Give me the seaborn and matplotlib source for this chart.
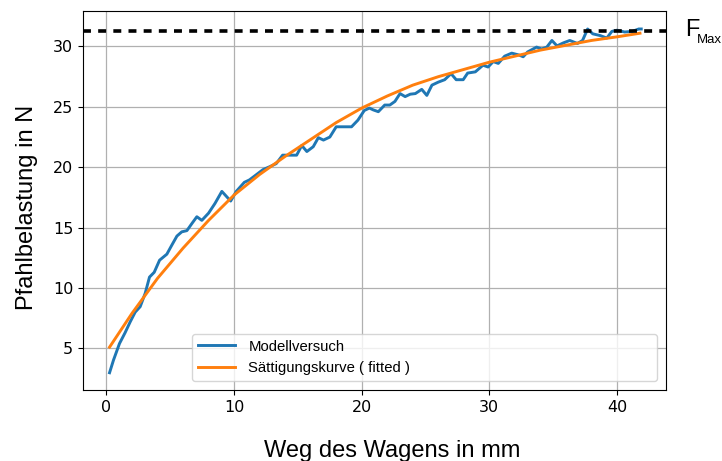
import matplotlib
matplotlib.use("Agg")
import matplotlib.pyplot as plt
import seaborn as sns
import pandas as pd

# Measured data (Modellversuch)
weg_mess = [0.24, 0.55, 1.02, 1.46, 1.86, 2.25, 2.64, 3.03, 3.37, 3.74, 4.16, 4.73,
            5.12, 5.52, 5.9, 6.3, 6.7, 7.08, 7.47, 8.0, 8.5, 9.04, 9.73, 10.17, 10.8,
            11.2, 11.7, 12.26, 12.8, 13.3, 13.8, 14.35, 14.9, 15.3, 15.7, 16.2, 16.6,
            17.0, 17.5, 18.0, 18.5, 19.2, 19.7, 20.2, 20.6, 20.9, 21.3, 21.8, 22.2,
            22.6, 23.0, 23.4, 23.8, 24.2, 24.7, 25.1, 25.5, 26.0, 26.5, 27.0, 27.4,
            27.95, 28.3, 28.9, 29.5, 29.9, 30.3, 30.7, 31.2, 31.75, 32.3, 32.65, 33.0,
            33.7, 34.1, 34.5, 34.9, 35.3, 35.8, 36.3, 36.9, 37.3, 37.7, 38.1, 38.7,
            39.2, 39.6, 40.0, 40.6, 41.2, 41.7, 41.9]
kraft_mess = [2.98, 4.03, 5.4, 6.3, 7.2, 8.0, 8.45, 9.55, 10.9, 11.3, 12.3, 12.8,
              13.55, 14.3, 14.65, 14.75, 15.35, 15.9, 15.6, 16.2, 17.0, 18.0, 17.2, 18.0, 18.75,
              18.95, 19.35, 19.8, 20.05, 20.3, 21.0, 21.0, 21.0, 21.8, 21.3, 21.7, 22.45,
              22.25, 22.5, 23.35, 23.35, 23.35, 23.9, 24.7, 24.9, 24.75, 24.6, 25.15, 25.15,
              25.45, 26.1, 25.85, 26.05, 26.1, 26.45, 25.95, 26.8, 27.05, 27.25, 27.75, 27.25,
              27.25, 27.8, 27.9, 28.45, 28.3, 28.75, 28.6, 29.2, 29.45, 29.3, 29.15, 29.55,
              29.95, 29.8, 29.95, 30.5, 30.05, 30.3, 30.5, 30.25, 30.5, 31.45, 31.05, 30.9,
              30.7, 31.25, 31.35, 31.2, 31.25, 31.45, 31.45]

# Fitted saturation curve
weg_fit = [0.24, 2, 4, 6, 8, 10, 12, 14, 16, 18, 20, 22, 24, 26, 28, 30, 32, 34, 36, 38, 40, 41.8]
kraft_fit = [5.1, 7.9, 10.8, 13.3, 15.6, 17.7, 19.4, 20.9, 22.3, 23.7, 24.9, 25.9, 26.8,
             27.5, 28.1, 28.7, 29.2, 29.7, 30.1, 30.5, 30.8, 31.1]

f_max = 31.3

labels = ["Modellversuch", "Sättigungskurve ( fitted )"]
x_ticks = [0, 10, 20, 30, 40]
y_ticks = [5, 10, 15, 20, 25, 30]

df_mess = pd.DataFrame({"Weg": weg_mess, "Kraft": kraft_mess})
df_fit = pd.DataFrame({"Weg": weg_fit, "Kraft": kraft_fit})

fig = plt.figure(figsize=(7.22, 4.61), dpi=100)
ax = fig.add_axes([83 / 722, 1 - 390 / 461, 583 / 722, 379 / 461])

sns.lineplot(data=df_mess, x="Weg", y="Kraft", ax=ax, color="#1f77b4", lw=2.1,
             sort=False, estimator=None, label=labels[0])
sns.lineplot(data=df_fit, x="Weg", y="Kraft", ax=ax, color="#ff7f0e", lw=2.1,
             sort=False, estimator=None, label=labels[1])
ax.axhline(f_max, color="black", lw=2.6, linestyle=(0, (2.2, 2.0)))

ax.set_xlim(-1.84, 43.84)
ax.set_ylim(1.55, 32.94)
ax.set_xticks(x_ticks)
ax.set_yticks(y_ticks)
ax.tick_params(labelsize=11.5)
for lab in ax.get_xticklabels() + ax.get_yticklabels():
    lab.set_fontfamily("DejaVu Sans")
ax.grid(True, color="#b0b0b0", lw=0.9)
ax.set_axisbelow(True)

lab_font = dict(family="Liberation Sans", size=17)
ax.set_xlabel("Weg des Wagens in mm", fontdict=lab_font, labelpad=18)
ax.set_ylabel("Pfahlbelastung in N", fontdict=lab_font, labelpad=11)
ax.xaxis.label.set_x((392 - 83) / 583)
ax.yaxis.label.set_y((390 - 207) / 379)

leg = ax.legend(bbox_to_anchor=(0.187, 0.024, 0.798, 0.147), mode="expand", loc="lower left",
                borderaxespad=0, handlelength=2.5, handletextpad=0.9,
                prop={"family": "Liberation Sans", "size": 10.7})

fig.text(685 / 722, 1 - 29.7 / 461, "F", family="Liberation Sans", size=17,
         ha="left", va="center")
fig.text(697 / 722, 1 - 39.7 / 461, "Max", family="Liberation Sans", size=9.5,
         ha="left", va="center")

fig.savefig("out.png", dpi=100)
